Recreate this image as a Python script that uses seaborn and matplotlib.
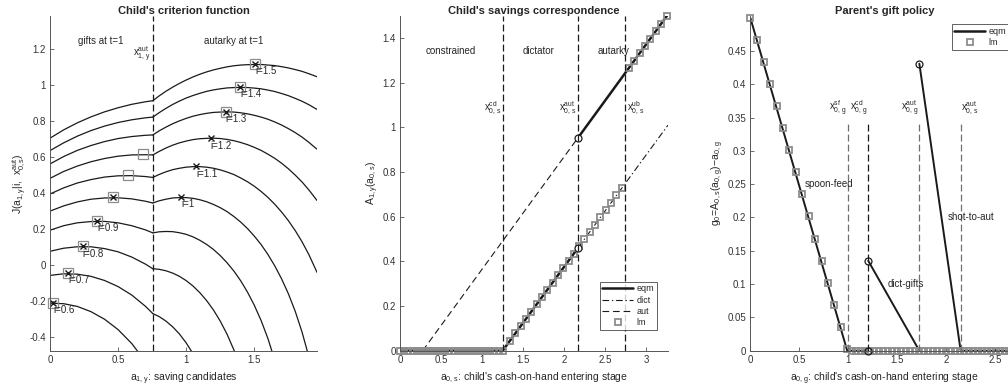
import numpy as np
import matplotlib
matplotlib.use('Agg')
import matplotlib.pyplot as plt
import seaborn as sns

# ---------------- data: panel 1 (Child's criterion function) ----------------
incomes = [0.6, 0.7, 0.8, 0.9, 1.0, 1.1, 1.2, 1.3, 1.4, 1.5]
a_left = [0.0, 0.1, 0.2, 0.3, 0.4, 0.5, 0.6, 0.7, 0.755]
J_left_06 = [-0.211, -0.214, -0.229, -0.258, -0.300, -0.358, -0.435, -0.535, -0.602]
J_left_07 = [-0.057, -0.048, -0.050, -0.062, -0.085, -0.119, -0.166, -0.228, -0.269]
J_left_08 = [0.077, 0.094, 0.102, 0.102, 0.092, 0.074, 0.045, 0.006, -0.020]
J_left_09 = [0.194, 0.219, 0.235, 0.242, 0.243, 0.235, 0.219, 0.196, 0.179]
J_left_10 = [0.300, 0.329, 0.351, 0.366, 0.373, 0.374, 0.368, 0.355, 0.345]
J_left_11 = [0.395, 0.429, 0.456, 0.475, 0.489, 0.496, 0.497, 0.492, 0.487]
J_left_12 = [0.482, 0.520, 0.550, 0.574, 0.592, 0.605, 0.612, 0.613, 0.612]
J_left_13 = [0.562, 0.603, 0.637, 0.664, 0.686, 0.703, 0.714, 0.721, 0.723]
J_left_14 = [0.636, 0.679, 0.716, 0.747, 0.772, 0.792, 0.807, 0.818, 0.822]
J_left_15 = [0.705, 0.751, 0.790, 0.823, 0.851, 0.874, 0.893, 0.907, 0.913]

a_right = [0.755, 0.80, 0.85, 0.90, 0.95, 1.00, 1.05, 1.10, 1.15, 1.20, 1.25, 1.30, 1.35,
           1.40, 1.45, 1.50, 1.55, 1.60, 1.65, 1.70, 1.75, 1.80, 1.85, 1.90, 1.95, 1.96]
J_right_07 = [-0.269, -0.285, -0.310, -0.342, -0.382, -0.432, -0.492, -0.565]
J_right_08 = [-0.020, -0.023, -0.031, -0.044, -0.062, -0.086, -0.116, -0.153, -0.197, -0.249,
              -0.311, -0.384, -0.471, -0.574]
J_right_09 = [0.179, 0.185, 0.187, 0.186, 0.180, 0.171, 0.157, 0.138, 0.115, 0.087, 0.053, 0.013,
              -0.033, -0.087, -0.150, -0.223, -0.308, -0.408, -0.528]
J_right_10 = [0.345, 0.357, 0.366, 0.373, 0.375, 0.375, 0.371, 0.363, 0.352, 0.337, 0.319, 0.297,
              0.270, 0.239, 0.203, 0.161, 0.114, 0.059, -0.004, -0.076, -0.159, -0.256, -0.371,
              -0.508, -0.676]
J_right_11 = [0.487, 0.503, 0.518, 0.530, 0.538, 0.544, 0.547, 0.547, 0.544, 0.538, 0.529, 0.517,
              0.503, 0.484, 0.463, 0.438, 0.409, 0.376, 0.338, 0.295, 0.247, 0.192, 0.130, 0.059,
              -0.023, -0.040]
J_right_12 = [0.612, 0.631, 0.650, 0.666, 0.679, 0.689, 0.697, 0.702, 0.704, 0.705, 0.703, 0.698,
              0.691, 0.681, 0.669, 0.654, 0.637, 0.616, 0.593, 0.566, 0.535, 0.500, 0.462, 0.418,
              0.369, 0.359]
J_right_13 = [0.723, 0.745, 0.766, 0.785, 0.801, 0.815, 0.827, 0.836, 0.843, 0.848, 0.850, 0.851,
              0.850, 0.846, 0.840, 0.832, 0.822, 0.810, 0.795, 0.778, 0.758, 0.736, 0.711, 0.682,
              0.650, 0.644]
J_right_14 = [0.822, 0.846, 0.870, 0.892, 0.911, 0.928, 0.942, 0.954, 0.965, 0.973, 0.979, 0.984,
              0.986, 0.987, 0.986, 0.983, 0.979, 0.972, 0.964, 0.953, 0.941, 0.926, 0.910, 0.891,
              0.869, 0.865]
J_right_15 = [0.913, 0.939, 0.965, 0.988, 1.009, 1.028, 1.045, 1.060, 1.073, 1.084, 1.093, 1.101,
              1.107, 1.111, 1.113, 1.114, 1.114, 1.111, 1.108, 1.102, 1.095, 1.086, 1.076, 1.063,
              1.049, 1.046]
J_left_all = [J_left_06, J_left_07, J_left_08, J_left_09, J_left_10,
              J_left_11, J_left_12, J_left_13, J_left_14, J_left_15]
J_right_all = [[], J_right_07, J_right_08, J_right_09, J_right_10,
               J_right_11, J_right_12, J_right_13, J_right_14, J_right_15]
x_aut_1y = 0.755
lm_a1 = [0.025, 0.135, 0.24, 0.348, 0.461, 0.571, 0.68, 1.29, 1.397, 1.507]
lm_J1 = [-0.21, -0.044, 0.104, 0.246, 0.378, 0.498, 0.617, 0.853, 0.989, 1.117]
eq_a1 = [0.025, 0.135, 0.24, 0.348, 0.461, 0.961, 1.074, 1.18, 1.29, 1.397, 1.507]
eq_J1 = [-0.21, -0.044, 0.104, 0.246, 0.378, 0.378, 0.548, 0.705, 0.853, 0.989, 1.117]
lab_a = [0.025, 0.135, 0.24, 0.348, 0.961, 1.074, 1.18, 1.29, 1.397, 1.507]
lab_J = [-0.21, -0.044, 0.104, 0.246, 0.378, 0.548, 0.705, 0.853, 0.989, 1.117]
lab_t = ['i=0.6', 'i=0.7', 'i=0.8', 'i=0.9', 'i=1', 'i=1.1', 'i=1.2', 'i=1.3', 'i=1.4', 'i=1.5']
xticks1 = [0, 0.5, 1, 1.5]
yticks1 = [-0.4, -0.2, 0, 0.2, 0.4, 0.6, 0.8, 1, 1.2]

# ---------------- data: panel 2 (Child's savings correspondence) ----------------
lm2_a = [0, 0.05, 0.1, 0.15, 0.2, 0.25, 0.3, 0.35, 0.4, 0.45, 0.5, 0.55, 0.6, 0.65, 0.7, 0.75,
         0.8, 0.85, 0.9, 0.95, 1.0, 1.05, 1.1, 1.15, 1.2, 1.25,
         1.34, 1.405, 1.47, 1.535, 1.6, 1.665, 1.73, 1.795, 1.86, 1.925, 1.99, 2.055, 2.12, 2.185,
         2.25, 2.315, 2.38, 2.445, 2.51, 2.575, 2.64, 2.705,
         2.79, 2.856, 2.922, 2.988, 3.054, 3.12, 3.186, 3.252]
lm2_A = [0, 0, 0, 0, 0, 0, 0, 0, 0, 0, 0, 0, 0, 0, 0, 0, 0, 0, 0, 0, 0, 0, 0, 0, 0, 0,
         0.045, 0.0775, 0.11, 0.1425, 0.175, 0.2075, 0.24, 0.2725, 0.305, 0.3375, 0.37, 0.4025,
         0.435, 0.4675, 0.5, 0.5325, 0.565, 0.5975, 0.63, 0.6625, 0.695, 0.7275,
         1.265, 1.298, 1.331, 1.364, 1.397, 1.431, 1.464, 1.497]
eqm2_a1 = [0, 1.25, 2.17]
eqm2_A1 = [0, 0, 0.46]
eqm2_a2 = [2.17, 3.27]
eqm2_A2 = [0.953, 1.506]
dict2_a = [0, 1.25, 3.27]
dict2_A = [0, 0, 1.01]
aut2_a = [0.273, 3.27]
aut2_A = [0, 1.506]
circ2_a = [2.17, 2.17]
circ2_A = [0.46, 0.953]
vlines2 = [1.25, 2.17, 2.75]
xticks2 = [0, 0.5, 1, 1.5, 2, 2.5, 3]
yticks2 = [0, 0.2, 0.4, 0.6, 0.8, 1, 1.2, 1.4]

# ---------------- data: panel 3 (Parent's gift policy) ----------------
lm3_a = [0, 0.0715, 0.14, 0.204, 0.27, 0.337, 0.398, 0.467, 0.531, 0.596, 0.661, 0.729, 0.794,
         0.858, 0.926, 0.991,
         1.035, 1.081, 1.127, 1.173, 1.219, 1.265, 1.311, 1.357, 1.403, 1.449, 1.495, 1.541, 1.587,
         1.633, 1.679, 1.725, 1.771, 1.817, 1.863, 1.909, 1.955, 2.001, 2.047, 2.093, 2.139, 2.185,
         2.231, 2.277, 2.323, 2.369, 2.415, 2.461, 2.507, 2.553, 2.599, 2.645, 2.691, 2.737]
lm3_g = [0.5, 0.467, 0.434, 0.401, 0.368, 0.334, 0.301, 0.268, 0.235, 0.202, 0.168, 0.135, 0.102,
         0.069, 0.036, 0.003,
         0, 0, 0, 0, 0, 0, 0, 0, 0, 0, 0, 0, 0, 0, 0, 0, 0, 0, 0, 0, 0, 0, 0, 0, 0, 0, 0, 0, 0, 0,
         0, 0, 0, 0, 0, 0, 0, 0]
eqm3_a1 = [0, 0.99, 1.205]
eqm3_g1 = [0.5, 0, 0]
eqm3_a2 = [1.205, 1.727]
eqm3_g2 = [0.135, 0]
eqm3_a3 = [1.727, 2.149, 2.74]
eqm3_g3 = [0.431, 0, 0]
circ3_a = [1.205, 1.205, 1.727]
circ3_g = [0, 0.135, 0.431]
vlines3 = [0.995, 1.205, 1.727, 2.149]
xticks3 = [0, 0.5, 1, 1.5, 2, 2.5]
yticks3 = [0, 0.05, 0.1, 0.15, 0.2, 0.25, 0.3, 0.35, 0.4, 0.45]

# ---------------- style ----------------
sns.set_theme(style='ticks')
plt.rcParams['font.family'] = ['Liberation Sans', 'DejaVu Sans']
plt.rcParams['mathtext.default'] = 'regular'
plt.rcParams['axes.edgecolor'] = '#555555'
plt.rcParams['xtick.color'] = '#555555'
plt.rcParams['ytick.color'] = '#555555'
plt.rcParams['xtick.labelcolor'] = '#333333'
plt.rcParams['ytick.labelcolor'] = '#333333'
plt.rcParams['xtick.direction'] = 'in'
plt.rcParams['ytick.direction'] = 'in'

fig = plt.figure(figsize=(10.08, 3.9), dpi=100)
H = 390.0
Wd = 1008.0


def axpos(l, r, t=15.7, bt=350.7):
    return [l / Wd, (H - bt) / H, (r - l) / Wd, (bt - t) / H]


ax1 = fig.add_axes(axpos(50, 317))
ax2 = fig.add_axes(axpos(400.3, 668))
ax3 = fig.add_axes(axpos(750.3, 1018.5))
TXT = '#262626'
GR = '#8c8c8c'
DASH = (5.5, 2.5)
for ax in (ax1, ax2, ax3):
    sns.despine(ax=ax)
    ax.tick_params(labelsize=7, length=3, width=0.6, pad=3)
    for s in ('left', 'bottom'):
        ax.spines[s].set_linewidth(0.7)
fmt = matplotlib.ticker.FuncFormatter(lambda v, p: f"{v:g}")

# ---------------- panel 1 ----------------
for jl, jr in zip(J_left_all, J_right_all):
    sns.lineplot(x=a_left, y=jl, ax=ax1, color='k', lw=0.9, sort=False, estimator=None)
    if len(jr) > 0:
        sns.lineplot(x=a_right[:len(jr)], y=jr, ax=ax1, color='k', lw=0.9, sort=False, estimator=None)
ax1.axvline(x_aut_1y, color='k', lw=0.9, dashes=DASH)
ax1.plot(lm_a1, lm_J1, ls='none', marker='s', ms=6.5, mfc='none', mec=GR, mew=0.9, clip_on=False)
ax1.plot(eq_a1, eq_J1, ls='none', marker='x', ms=5, mec='k', mew=1.0, clip_on=False)
for a, j, t in zip(lab_a, lab_J, lab_t):
    ax1.text(a, j - 0.041, t, ha='left', va='center', fontsize=7, color=TXT)
ax1.text(0.37, 1.242, 'gifts at t=1', ha='center', va='center', fontsize=7, color=TXT)
ax1.text(1.35, 1.242, 'autarky at t=1', ha='center', va='center', fontsize=7, color=TXT)
ax1.text(0.74, 1.168, r'$x^{aut}_{1,y}$', ha='right', va='center', fontsize=7, color=TXT)
ax1.set_xlim(0, 1.96)
ax1.set_ylim(-0.475, 1.385)
ax1.set_xticks(xticks1)
ax1.set_yticks(yticks1)
ax1.xaxis.set_major_formatter(fmt)
ax1.yaxis.set_major_formatter(fmt)
ax1.set_title("Child's criterion function", fontsize=8, fontweight='bold', pad=1.5)
ax1.set_xlabel(r'$a_{1,y}$: saving candidates', fontsize=7.5, color=TXT)
ax1.set_ylabel(r'$J(a_{1,y}|i,\ x^{aut}_{0,s})$', fontsize=7.5, color=TXT, labelpad=1)

# ---------------- panel 2 ----------------
ax2.plot(aut2_a, aut2_A, color='k', lw=0.8, dashes=(6, 3.5))
ax2.plot(dict2_a, dict2_A, color='k', lw=0.8, dashes=(6, 2.5, 1.2, 2.5))
sns.lineplot(x=eqm2_a1, y=eqm2_A1, ax=ax2, color='k', lw=1.8, sort=False, estimator=None)
sns.lineplot(x=eqm2_a2, y=eqm2_A2, ax=ax2, color='k', lw=1.8, sort=False, estimator=None)
ax2.plot(lm2_a, lm2_A, ls='none', marker='s', ms=4.2, mfc='none', mec=GR, mew=1.3, clip_on=False)
ax2.plot(circ2_a, circ2_A, ls='none', marker='o', ms=5, mfc='white', mec='k', mew=0.9)
for xv in vlines2:
    ax2.axvline(xv, color='k', lw=0.9, dashes=DASH)
ax2.text(1.23, 1.085, r'$x^{cd}_{0,s}$', ha='right', va='center', fontsize=7, color=TXT)
ax2.text(2.15, 1.085, r'$x^{aut}_{0,s}$', ha='right', va='center', fontsize=7, color=TXT)
ax2.text(2.77, 1.085, r'$x^{ub}_{0,s}$', ha='left', va='center', fontsize=7, color=TXT)
ax2.text(0.62, 1.343, 'constrained', ha='center', va='center', fontsize=7, color=TXT)
ax2.text(1.695, 1.343, 'dictator', ha='center', va='center', fontsize=7, color=TXT)
ax2.text(2.61, 1.343, 'autarky', ha='center', va='center', fontsize=7, color=TXT)
ax2.set_xlim(0, 3.27)
ax2.set_ylim(0, 1.5)
ax2.set_xticks(xticks2)
ax2.set_yticks(yticks2)
ax2.xaxis.set_major_formatter(fmt)
ax2.yaxis.set_major_formatter(fmt)
ax2.set_title("Child's savings correspondence", fontsize=8, fontweight='bold', pad=1.5)
ax2.set_xlabel(r"$a_{0,s}$: child's cash-on-hand entering stage", fontsize=7.5, color=TXT)
ax2.set_ylabel(r'$A_{1,y}(a_{0,s})$', fontsize=7.5, color=TXT, labelpad=1)
h2 = [plt.Line2D([], [], color='k', lw=1.8),
      plt.Line2D([], [], color='k', lw=0.8, dashes=(6, 2.5, 1.2, 2.5)),
      plt.Line2D([], [], color='k', lw=0.8, dashes=(6, 3.5)),
      plt.Line2D([], [], ls='none', marker='s', ms=4.2, mfc='none', mec=GR, mew=1.3)]
lg = ax2.legend(h2, ['eqm', 'dict', 'aut', 'lm'], loc='lower right', bbox_to_anchor=(0.959, 0.062),
                borderaxespad=0, fontsize=6.5, handlelength=3.4, handletextpad=0.4,
                labelspacing=0.25, borderpad=0.3, frameon=True, fancybox=False, edgecolor='k')
lg.get_frame().set_linewidth(0.6)

# ---------------- panel 3 ----------------
for xs, ys in [(eqm3_a1, eqm3_g1), (eqm3_a2, eqm3_g2), (eqm3_a3, eqm3_g3)]:
    sns.lineplot(x=xs, y=ys, ax=ax3, color='k', lw=1.4, sort=False, estimator=None)
ax3.plot(lm3_a, lm3_g, ls='none', marker='s', ms=4.2, mfc='none', mec=GR, mew=1.3, clip_on=False)
ax3.plot(circ3_a, circ3_g, ls='none', marker='o', ms=5, mfc='none', mec='k', mew=0.9, clip_on=False)
vcol3 = ['#707070', 'k', '#707070', '#707070']
for xv, cv in zip(vlines3, vcol3):
    ax3.plot([xv, xv], [0, 0.345], color=cv, lw=0.9, dashes=DASH)
ax3.text(0.985, 0.364, r'$x^{sf}_{0,g}$', ha='right', va='center', fontsize=7, color=TXT)
ax3.text(1.195, 0.364, r'$x^{cd}_{0,g}$', ha='right', va='center', fontsize=7, color=TXT)
ax3.text(1.717, 0.364, r'$x^{aut}_{0,g}$', ha='right', va='center', fontsize=7, color=TXT)
ax3.text(2.155, 0.364, r'$x^{aut}_{0,s}$', ha='left', va='center', fontsize=7, color=TXT)
ax3.text(0.56, 0.251, 'spoon-feed', ha='left', va='center', fontsize=7, color=TXT)
ax3.text(1.40, 0.1, 'dict-gifts', ha='left', va='center', fontsize=7, color=TXT)
ax3.text(2.02, 0.2, 'shot-to-aut', ha='left', va='center', fontsize=7, color=TXT)
ax3.set_xlim(0, 2.74)
ax3.set_ylim(0, 0.503)
ax3.set_xticks(xticks3)
ax3.set_yticks(yticks3)
ax3.xaxis.set_major_formatter(fmt)
ax3.yaxis.set_major_formatter(fmt)
ax3.set_title("Parent's gift policy", fontsize=8, fontweight='bold', pad=1.5)
ax3.set_xlabel(r"$a_{0,g}$: child's cash-on-hand entering stage", fontsize=7.5, color=TXT)
ax3.set_ylabel(r'$g_0\!=\!A_{0,s}(a_{0,g})\!-\!a_{0,g}$', fontsize=7.5, color=TXT, labelpad=1)
h3 = [plt.Line2D([], [], color='k', lw=1.8),
      plt.Line2D([], [], ls='none', marker='s', ms=4.2, mfc='none', mec=GR, mew=1.3)]
lg3 = ax3.legend(h3, ['eqm', 'lm'], loc='upper left', bbox_to_anchor=(0.751, 0.975),
                 borderaxespad=0, fontsize=6.5, handlelength=3.4, handletextpad=0.4,
                 labelspacing=0.25, borderpad=0.3, frameon=True, fancybox=False, edgecolor='k')
lg3.get_frame().set_linewidth(0.6)

fig.savefig('out.png', dpi=100)
